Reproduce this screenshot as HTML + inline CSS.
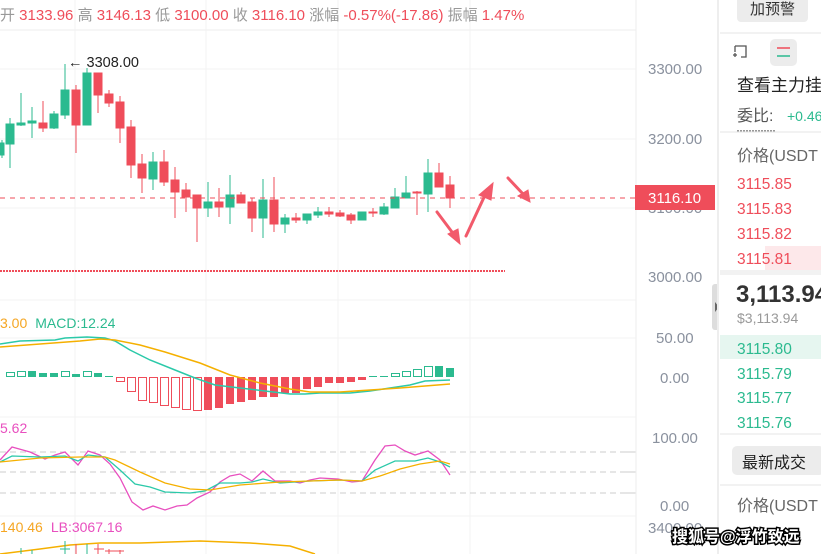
<!DOCTYPE html>
<html><head><meta charset="utf-8"><style>
body{margin:0;width:821px;height:554px;overflow:hidden;background:#fff;font-family:"Liberation Sans","Noto Sans CJK SC",sans-serif;}
svg{position:absolute;left:0;top:0}
</style></head><body>
<svg width="821" height="554" xmlns="http://www.w3.org/2000/svg" font-family="Liberation Sans, Noto Sans CJK SC, sans-serif">
<g stroke="#f3f3f3" stroke-width="1">
<line x1="75" y1="0" x2="75" y2="554"/><line x1="206" y1="0" x2="206" y2="554"/><line x1="338" y1="0" x2="338" y2="554"/><line x1="470" y1="0" x2="470" y2="554"/>
<line x1="0" y1="69" x2="636" y2="69"/><line x1="0" y1="139" x2="636" y2="139"/><line x1="0" y1="208" x2="636" y2="208"/>
<line x1="0" y1="300" x2="636" y2="300"/><line x1="0" y1="338" x2="636" y2="338"/><line x1="0" y1="417" x2="636" y2="417"/><line x1="0" y1="516" x2="636" y2="516"/>
</g>
<line x1="0" y1="30" x2="636" y2="30" stroke="#eee"/>
<text y="20" font-size="15" fill="#ef4d5a"><tspan fill="#999">开</tspan> 3133.96 <tspan fill="#999">高</tspan> 3146.13 <tspan fill="#999">低</tspan> 3100.00 <tspan fill="#999">收</tspan> 3116.10 <tspan fill="#999">涨幅</tspan> -0.57%(-17.86) <tspan fill="#999">振幅</tspan> 1.47%</text>
<text x="68" y="67" font-size="14.5" fill="#222">← 3308.00</text>
<g stroke-width="1">
<g fill="#2bba8f" stroke="#2bba8f">
<line x1="2" y1="140" x2="2" y2="158"/><rect x="-2" y="143" width="6" height="12"/>
<line x1="10" y1="118" x2="10" y2="168"/><rect x="6" y="124" width="8" height="20"/>
<line x1="21" y1="93" x2="21" y2="126"/><rect x="17" y="123" width="8" height="2"/>
<line x1="32" y1="107" x2="32" y2="138"/><rect x="28" y="121" width="8" height="2"/>
<line x1="54" y1="111" x2="54" y2="129"/><rect x="50" y="114" width="8" height="14"/>
<line x1="65" y1="64" x2="65" y2="119"/><rect x="61" y="90" width="8" height="25"/>
<line x1="87" y1="68" x2="87" y2="125"/><rect x="83" y="73" width="8" height="52"/>
<line x1="153" y1="152" x2="153" y2="190"/><rect x="149" y="162" width="8" height="17"/>
<line x1="208" y1="182" x2="208" y2="217"/><rect x="204" y="202" width="8" height="6"/>
<line x1="230" y1="175" x2="230" y2="224"/><rect x="226" y="195" width="8" height="12"/>
<line x1="263" y1="179" x2="263" y2="238"/><rect x="259" y="200" width="8" height="18"/>
<line x1="285" y1="214" x2="285" y2="233"/><rect x="281" y="218" width="8" height="6"/>
<line x1="307" y1="214" x2="307" y2="224"/><rect x="303" y="214" width="8" height="6"/>
<line x1="318" y1="207" x2="318" y2="218"/><rect x="314" y="212" width="8" height="3"/>
<line x1="362" y1="212" x2="362" y2="220"/><rect x="358" y="212" width="8" height="8"/>
<line x1="384" y1="203" x2="384" y2="215"/><rect x="380" y="207" width="8" height="7"/>
<line x1="395" y1="188" x2="395" y2="208"/><rect x="391" y="197" width="8" height="11"/>
<line x1="406" y1="176" x2="406" y2="198"/><rect x="402" y="193" width="8" height="5"/>
<line x1="428" y1="159" x2="428" y2="212"/><rect x="424" y="173" width="8" height="21"/>
</g>
<g fill="#ef4d5a" stroke="#ef4d5a">
<line x1="43" y1="101" x2="43" y2="132"/><rect x="39" y="123" width="8" height="5"/>
<line x1="76" y1="85" x2="76" y2="153"/><rect x="72" y="90" width="8" height="35"/>
<line x1="98" y1="73" x2="98" y2="113"/><rect x="94" y="73" width="8" height="22"/>
<line x1="109" y1="90" x2="109" y2="107"/><rect x="105" y="94" width="8" height="9"/>
<line x1="120" y1="96" x2="120" y2="143"/><rect x="116" y="102" width="8" height="26"/>
<line x1="131" y1="120" x2="131" y2="178"/><rect x="127" y="127" width="8" height="38"/>
<line x1="142" y1="154" x2="142" y2="193"/><rect x="138" y="164" width="8" height="14"/>
<line x1="164" y1="150" x2="164" y2="186"/><rect x="160" y="162" width="8" height="20"/>
<line x1="175" y1="167" x2="175" y2="218"/><rect x="171" y="180" width="8" height="12"/>
<line x1="186" y1="183" x2="186" y2="212"/><rect x="182" y="190" width="8" height="7"/>
<line x1="197" y1="195" x2="197" y2="242"/><rect x="193" y="195" width="8" height="13"/>
<line x1="219" y1="188" x2="219" y2="217"/><rect x="215" y="202" width="8" height="5"/>
<line x1="241" y1="192" x2="241" y2="203"/><rect x="237" y="195" width="8" height="8"/>
<line x1="252" y1="198" x2="252" y2="232"/><rect x="248" y="202" width="8" height="16"/>
<line x1="274" y1="177" x2="274" y2="232"/><rect x="270" y="200" width="8" height="24"/>
<line x1="296" y1="213" x2="296" y2="223"/><rect x="292" y="218" width="8" height="2"/>
<line x1="329" y1="207" x2="329" y2="217"/><rect x="325" y="212" width="8" height="2"/>
<line x1="340" y1="210" x2="340" y2="217"/><rect x="336" y="213" width="8" height="3"/>
<line x1="351" y1="213" x2="351" y2="224"/><rect x="347" y="215" width="8" height="5"/>
<line x1="373" y1="208" x2="373" y2="217"/><rect x="369" y="212" width="8" height="1"/>
<line x1="417" y1="191" x2="417" y2="215"/><rect x="413" y="192" width="8" height="1"/>
<line x1="439" y1="163" x2="439" y2="187"/><rect x="435" y="173" width="8" height="14"/>
<line x1="450" y1="176" x2="450" y2="208"/><rect x="446" y="185" width="8" height="13"/>
</g>
</g>
<line x1="0" y1="198" x2="636" y2="198" stroke="#ef4d5a" stroke-dasharray="5,5"/>
<line x1="0" y1="271" x2="505" y2="271" stroke="#ef4d5a" stroke-width="2" stroke-dasharray="2,1"/>
<g fill="#f25a6b" stroke="#f25a6b" stroke-width="3" stroke-linecap="round">
<line x1="437" y1="212" x2="455" y2="236"/><polygon points="448,234 460,244 458,229" stroke-width="1"/>
<line x1="466" y1="236" x2="486" y2="193"/><polygon points="479,195 493,183 491,200" stroke-width="1"/>
<line x1="508" y1="178" x2="524" y2="195"/><polygon points="518,196 530,202 528,190" stroke-width="1"/>
</g>
<text x="0" y="328" font-size="14"><tspan fill="#f5a623">3.00</tspan><tspan fill="#2bba8f" dx="8">MACD:12.24</tspan></text>
<g stroke-width="1">
<g fill="none" stroke="#2bba8f">
<rect x="6.5" y="372.5" width="8" height="4"/><rect x="17.5" y="371.5" width="8" height="5"/>
<rect x="61.5" y="371.5" width="8" height="5"/><rect x="83.5" y="371.5" width="8" height="5"/>
<rect x="391.5" y="373.5" width="8" height="3"/><rect x="402.5" y="371.5" width="8" height="5"/><rect x="413.5" y="369.5" width="8" height="7"/><rect x="424.5" y="366.5" width="8" height="10"/>
</g>
<g fill="#2bba8f">
<rect x="28" y="371" width="8" height="6"/><rect x="39" y="373" width="8" height="4"/><rect x="50" y="373" width="8" height="4"/><rect x="72" y="374" width="8" height="3"/><rect x="94" y="373" width="8" height="4"/><rect x="105" y="376" width="8" height="1"/>
<rect x="369" y="376" width="8" height="1"/><rect x="380" y="376" width="8" height="1"/><rect x="435" y="366" width="8" height="11"/><rect x="446" y="368" width="8" height="9"/>
</g>
<g fill="none" stroke="#ef4d5a">
<rect x="116.5" y="377.5" width="8" height="4"/><rect x="127.5" y="377.5" width="8" height="14"/><rect x="138.5" y="377.5" width="8" height="23"/><rect x="149.5" y="377.5" width="8" height="25"/><rect x="160.5" y="377.5" width="8" height="28"/><rect x="171.5" y="377.5" width="8" height="30"/><rect x="182.5" y="377.5" width="8" height="32"/><rect x="193.5" y="377.5" width="8" height="33"/>
</g>
<g fill="#ef4d5a">
<rect x="204" y="377" width="8" height="33"/><rect x="215" y="377" width="8" height="31"/><rect x="226" y="377" width="8" height="27"/><rect x="237" y="377" width="8" height="25"/><rect x="248" y="377" width="8" height="23"/><rect x="259" y="377" width="8" height="20"/><rect x="270" y="377" width="8" height="20"/><rect x="281" y="377" width="8" height="16"/><rect x="292" y="377" width="8" height="16"/><rect x="303" y="377" width="8" height="12"/><rect x="314" y="377" width="8" height="10"/><rect x="325" y="377" width="8" height="6"/><rect x="336" y="377" width="8" height="6"/><rect x="347" y="377" width="8" height="5"/><rect x="358" y="377" width="8" height="3"/>
</g>
</g>
<polyline fill="none" stroke="#2bc9a9" stroke-width="1.5" points="0,344 20,341 55,340 65,338 87,337 105,338 115,341 130,350 150,360 175,370 195,378 215,385 240,388 265,391 290,394 305,394 320,393 350,393 370,391 390,388 410,385 425,381 450,380"/>
<polyline fill="none" stroke="#f5b000" stroke-width="1.5" points="0,347 40,344 80,341 100,339 115,340 140,345 165,352 200,363 230,375 260,383 290,389 310,392 340,392 370,390 400,388 425,386 450,384"/>
<text x="0" y="433" font-size="14" fill="#e84fbf">5.62</text>
<g stroke="#ccc" stroke-dasharray="6,4"><line x1="0" y1="452" x2="636" y2="452"/><line x1="0" y1="472" x2="636" y2="472"/><line x1="0" y1="493" x2="636" y2="493"/></g>
<polyline fill="none" stroke="#e84fbf" stroke-width="1.3" points="0,460 12,447 30,452 45,459 55,455 65,452 78,465 88,451 100,455 110,464 120,478 132,502 143,510 153,506 165,510 177,506 187,505 197,498 210,492 220,482 230,476 240,474 252,481 263,471 275,481 290,481 300,483 310,480 320,478 338,479 352,482 362,481 375,460 385,446 395,445 405,451 415,455 428,451 440,460 450,475"/>
<polyline fill="none" stroke="#2bc9a9" stroke-width="1.3" points="0,462 12,456 40,457 65,456 78,461 88,455 105,457 120,470 135,484 150,487 165,492 190,493 205,491 220,483 240,483 252,482 263,479 280,483 310,481 340,480 362,481 375,470 395,461 415,461 428,458 440,462 450,467"/>
<polyline fill="none" stroke="#f5b000" stroke-width="1.3" points="0,462 40,458 80,457 105,457 115,460 140,472 165,483 190,489 210,490 240,485 280,482 340,480 362,481 380,476 400,469 420,464 440,461 450,464"/>
<text x="0" y="532" font-size="14"><tspan fill="#f5a623">140.46</tspan><tspan fill="#e84fbf" dx="8">LB:3067.16</tspan></text>
<polyline fill="none" stroke="#f5b000" stroke-width="1.5" points="0,554 40,549 70,545 100,543 140,543 200,541 250,543 290,546 315,554"/>
<g stroke="#2bba8f"><line x1="21" y1="548" x2="21" y2="554"/><line x1="32" y1="550" x2="32" y2="554"/><line x1="65" y1="541" x2="65" y2="554"/><line x1="87" y1="544" x2="87" y2="554"/><line x1="60" y1="549" x2="70" y2="549"/></g>
<g stroke="#ef4d5a"><line x1="76" y1="544" x2="76" y2="554"/><line x1="98" y1="544" x2="98" y2="554"/><line x1="109" y1="549" x2="109" y2="554"/><line x1="120" y1="550" x2="120" y2="554"/><line x1="94" y1="549" x2="104" y2="549"/><line x1="105" y1="551" x2="124" y2="551"/></g>
<rect x="636" y="0" width="82" height="554" fill="#fff"/>
<g stroke="#eee"><line x1="636" y1="0" x2="636" y2="554"/></g>
<g font-size="15" fill="#8a919e">
<text x="648" y="74">3300.00</text><text x="648" y="144">3200.00</text><text x="648" y="213">3100.00</text><text x="648" y="282">3000.00</text>
<text x="656" y="343">50.00</text><text x="660" y="383">0.00</text><text x="652" y="443">100.00</text><text x="660" y="511">0.00</text><text x="648" y="533">3400.00</text>
</g>
<g stroke="#ccc"><line x1="626" y1="452" x2="633" y2="452"/><line x1="626" y1="472" x2="633" y2="472"/><line x1="626" y1="493" x2="633" y2="493"/></g>
<rect x="635" y="185" width="80" height="25" fill="#ef4d5a"/>
<text x="648" y="203" font-size="15" fill="#fff">3116.10</text>
<rect x="712" y="284" width="10" height="46" rx="3" fill="#ddd"/>
<polygon points="715,302 719,307 715,312" fill="#666"/>
<rect x="718" y="0" width="103" height="554" fill="#fff"/>
<line x1="718" y1="0" x2="718" y2="554" stroke="#eee" stroke-width="2"/>
<rect x="737" y="-4" width="71" height="26" rx="4" fill="#ececec"/>
<text x="750" y="14" font-size="15" fill="#333">加预警</text>
<line x1="720" y1="33" x2="821" y2="33" stroke="#eee" stroke-width="1.5"/>
<rect x="770" y="39" width="27" height="27" rx="5" fill="#ececec"/>
<g stroke="#ef4d5a" stroke-width="1.5"><line x1="777" y1="48" x2="790" y2="48"/></g>
<g stroke="#2bba8f" stroke-width="1.5"><line x1="777" y1="56" x2="790" y2="56"/></g>
<path d="M735 46 h11 v11 h-5 M735 46 v6 M733 55 h4 M735 53 v4" stroke="#555" fill="none" stroke-width="1.3"/>
<text x="737" y="91" font-size="17" fill="#222">查看主力挂</text>
<text x="737" y="121" font-size="16" fill="#555">委比:</text>
<text x="787" y="121" font-size="14" fill="#2bba8f">+0.46</text>
<line x1="737" y1="131" x2="776" y2="131" stroke="#333" stroke-dasharray="2,1"/>
<line x1="720" y1="132" x2="821" y2="132" stroke="#eee" stroke-width="1.5"/>
<text x="737" y="161" font-size="16" fill="#666">价格(USDT</text>
<rect x="765" y="246" width="56" height="24" fill="#fde8ea"/>
<g font-size="15.5" fill="#ef4d5a"><text x="737" y="189">3115.85</text><text x="737" y="214">3115.83</text><text x="737" y="239">3115.82</text><text x="737" y="264">3115.81</text></g>
<rect x="720" y="270" width="101" height="5" fill="#f2f2f2"/>
<text x="736" y="302" font-size="24" font-weight="bold" fill="#333">3,113.94</text>
<text x="737" y="323" font-size="14" fill="#999">$3,113.94</text>
<rect x="720" y="335" width="101" height="24" fill="#e6f6f0"/>
<g font-size="15.5" fill="#2bba8f"><text x="737" y="354">3115.80</text><text x="737" y="379">3115.79</text><text x="737" y="403">3115.77</text><text x="737" y="428">3115.76</text></g>
<line x1="720" y1="434" x2="821" y2="434" stroke="#eee" stroke-width="1.5"/>
<rect x="732" y="446" width="92" height="29" rx="5" fill="#ececec"/>
<text x="742" y="468" font-size="16" fill="#222">最新成交</text>
<line x1="720" y1="485" x2="821" y2="485" stroke="#eee" stroke-width="1.5"/>
<text x="737" y="511" font-size="16" fill="#666">价格(USDT</text>
<text x="672" y="542" font-size="16" fill="#fff" stroke="#000" stroke-width="3" paint-order="stroke" font-weight="bold">搜狐号@浮竹致远</text>
</svg>
</body></html>
